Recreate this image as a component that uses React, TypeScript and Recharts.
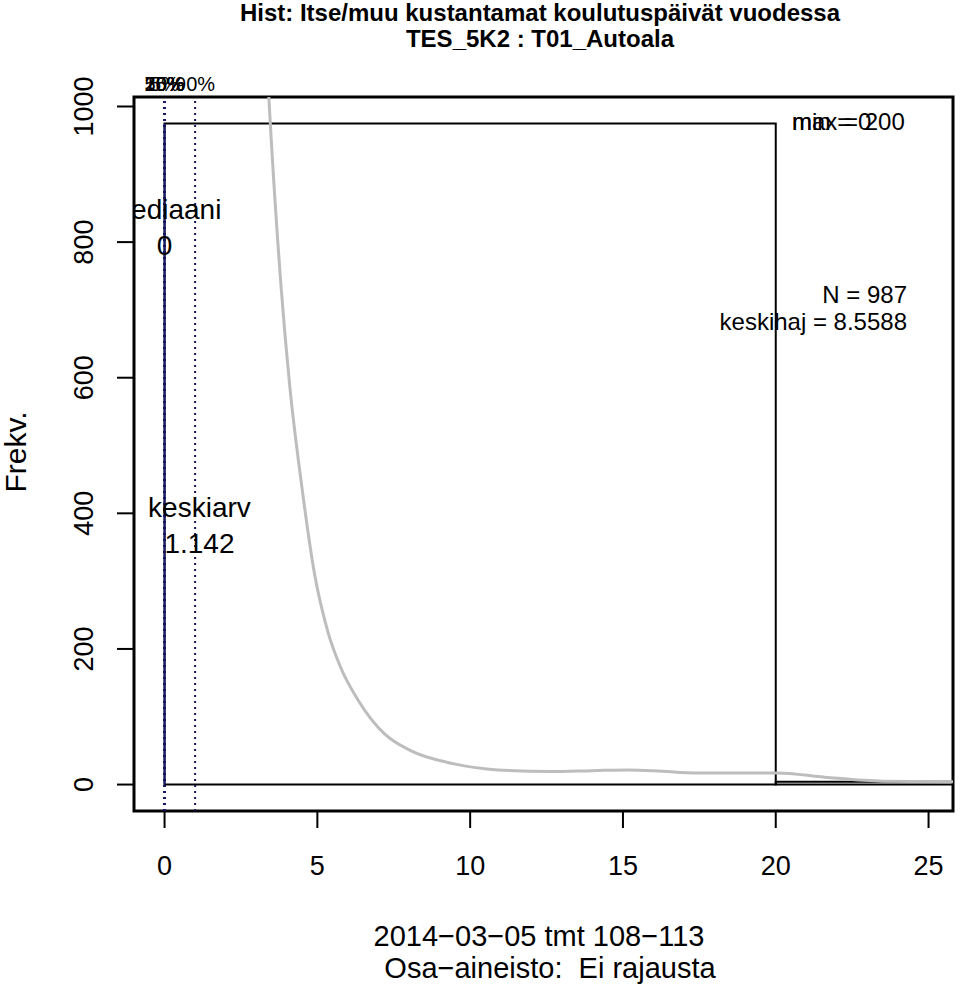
import React from 'react';
import {
  ComposedChart,
  XAxis,
  YAxis,
  Line,
  ReferenceArea,
  ReferenceLine,
  ReferenceDot,
} from 'recharts';

const FONT = '"Liberation Sans", Arial, Helvetica, sans-serif';

// ---- data ----
const xTicks = [0, 5, 10, 15, 20, 25];
const yTicks = [0, 200, 400, 600, 800, 1000];

const binStarts = [0, 20];
const binEnds = [20, 200];
const binCounts = [975, 4];

const densityX = [3.2, 3.41, 3.46, 3.82, 4.09, 4.49, 4.91, 5.34, 5.76, 6.34, 7.19, 8.05, 9.48, 10.9, 12.62, 14.0, 15.19, 16.3, 17.35, 18.7, 20.06, 21.6, 23.5, 25.9];
const densityY = [1170, 1015, 975, 730, 591, 440, 310, 226, 173, 124, 75, 50, 30.5, 21.6, 19.2, 20.5, 21.6, 19.5, 17.2, 17, 17.2, 10.8, 4.9, 4.0];

const percentileLabels = ['5%', '10%', '25%', '50%', '75%', '90%'];
const percentileValues = [0, 0, 0, 0, 0, 1];

const medianValue = 0;
const meanValue = 1.142;
const nValue = 987;
const sdValue = '8.5588';
const minValue = 0;
const maxValue = 200;

const titleLines = ['Hist: Itse/muu kustantamat koulutuspäivät vuodessa', 'TES_5K2 : T01_Autoala'];
const subLines = ['2014\u221203\u221205 tmt 108\u2212113', 'Osa\u2212aineisto:  Ei rajausta'];
const yLabel = 'Frekv.';

const densityData = densityX.map((x, i) => ({ x, y: densityY[i] }));

// ---- layout ----
const W = 960;
const H = 988;
const PLOT_LEFT = 134;
const PLOT_TOP = 97;
const PLOT_RIGHT = 953;
const PLOT_BOTTOM = 811;
const X_DOMAIN: [number, number] = [-1.0, 25.8];
const Y_DOMAIN: [number, number] = [-39, 1014];

const YTick = (props: any) => {
  const { y, payload } = props;
  return (
    <text
      x={93}
      y={y}
      transform={`rotate(-90 93 ${y})`}
      textAnchor="middle"
      fontSize={27}
      fontFamily={FONT}
      fill="#000"
    >
      {payload.value}
    </text>
  );
};

const XTick = (props: any) => {
  const { x, payload } = props;
  return (
    <text x={x} y={875} textAnchor="middle" fontSize={27} fontFamily={FONT} fill="#000">
      {payload.value}
    </text>
  );
};

const makeStatLabel = (lines: string[], id: string) => (p: any) => {
  const vb = p.viewBox || {};
  const cx = vb.x + (vb.width || 0) / 2;
  const cy = vb.y + (vb.height || 0) / 2;
  return (
    <g>
      <defs>
        <clipPath id={id}>
          <rect x={PLOT_LEFT} y={PLOT_TOP} width={PLOT_RIGHT - PLOT_LEFT} height={PLOT_BOTTOM - PLOT_TOP} />
        </clipPath>
      </defs>
      <g clipPath={`url(#${id})`}>
        {lines.map((t, i) => (
          <text
            key={i}
            x={cx}
            y={cy + i * 36}
            textAnchor="middle"
            fontSize={28}
            fontFamily={FONT}
            fill="#000"
          >
            {t}
          </text>
        ))}
      </g>
    </g>
  );
};

export default function App() {
  return (
    <div style={{ position: 'absolute', left: 0, top: 0, width: W, height: H, background: '#fff' }}>
      <ComposedChart
        width={W}
        height={H}
        data={densityData}
        margin={{ top: PLOT_TOP, right: W - PLOT_RIGHT, bottom: 0, left: 0 }}
        style={{ fontFamily: FONT }}
      >
        <XAxis
          type="number"
          dataKey="x"
          domain={X_DOMAIN}
          ticks={xTicks}
          allowDataOverflow
          height={H - PLOT_BOTTOM}
          axisLine={false}
          tickLine={{ stroke: '#000', strokeWidth: 2 }}
          tickSize={17}
          tick={<XTick />}
          interval={0}
        />
        <YAxis
          type="number"
          domain={Y_DOMAIN}
          ticks={yTicks}
          allowDataOverflow
          width={PLOT_LEFT}
          axisLine={false}
          tickLine={{ stroke: '#000', strokeWidth: 2 }}
          tickSize={17}
          tick={<YTick />}
          interval={0}
        />
        {binCounts.map((c, i) => (
          <ReferenceArea
            key={'bin' + i}
            x1={binStarts[i]}
            x2={binEnds[i]}
            y1={0}
            y2={c}
            fill="none"
            fillOpacity={0}
            stroke="#000"
            strokeWidth={2}
            strokeOpacity={1}
            ifOverflow="hidden"
          />
        ))}
        <ReferenceLine
          segment={[{ x: medianValue, y: 0 }, { x: medianValue, y: binCounts[0] }]}
          stroke="#1c1c6e"
          strokeWidth={2}
        />
        {percentileValues.map((v, i) => (
          <ReferenceLine
            key={'p' + i}
            x={v}
            stroke="#14145e"
            strokeWidth={2}
            strokeDasharray="2 4"
            label={{ value: percentileLabels[i], position: 'top', offset: 6, fontSize: 20, fill: '#000', fontFamily: FONT }}
          />
        ))}
        <Line
          type="monotone"
          dataKey="y"
          stroke="#bdbdbd"
          strokeWidth={3}
          dot={false}
          activeDot={false}
          isAnimationActive={false}
        />
        <ReferenceDot
          x={medianValue}
          y={834}
          r={1}
          fill="none"
          stroke="none"
          label={makeStatLabel(['mediaani', String(medianValue)], 'clipMed')}
        />
        <ReferenceDot
          x={meanValue}
          y={395}
          r={1}
          fill="none"
          stroke="none"
          label={makeStatLabel(['keskiarv', String(meanValue)], 'clipMean')}
        />
        <ReferenceArea
          x1={X_DOMAIN[0]}
          x2={X_DOMAIN[1]}
          y1={Y_DOMAIN[0]}
          y2={Y_DOMAIN[1]}
          fill="none"
          fillOpacity={0}
          stroke="#000"
          strokeWidth={3}
          strokeOpacity={1}
          ifOverflow="visible"
        />
      </ComposedChart>
      <svg
        width={W}
        height={H}
        style={{ position: 'absolute', left: 0, top: 0, pointerEvents: 'none' }}
        fontFamily={FONT}
      >
        <text x={540} y={21} textAnchor="middle" fontSize={24} fontWeight="bold">
          {titleLines[0]}
        </text>
        <text x={540} y={47} textAnchor="middle" fontSize={24} fontWeight="bold">
          {titleLines[1]}
        </text>
        <text x={539} y={946} textAnchor="middle" fontSize={29} style={{ whiteSpace: 'pre' }}>
          {subLines[0]}
        </text>
        <text x={550} y={978} textAnchor="middle" fontSize={29} style={{ whiteSpace: 'pre' }}>
          {subLines[1]}
        </text>
        <text x={26} y={452} transform="rotate(-90 26 452)" textAnchor="middle" fontSize={30}>
          {yLabel}
        </text>
        <text x={792} y={130} fontSize={24}>{`max = ${maxValue}`}</text>
        <text x={792} y={130} fontSize={24}>{`min = ${minValue}`}</text>
        <text x={907} y={303} textAnchor="end" fontSize={24}>{`N = ${nValue}`}</text>
        <text x={907} y={330} textAnchor="end" fontSize={24}>{`keskihaj = ${sdValue}`}</text>
      </svg>
    </div>
  );
}
